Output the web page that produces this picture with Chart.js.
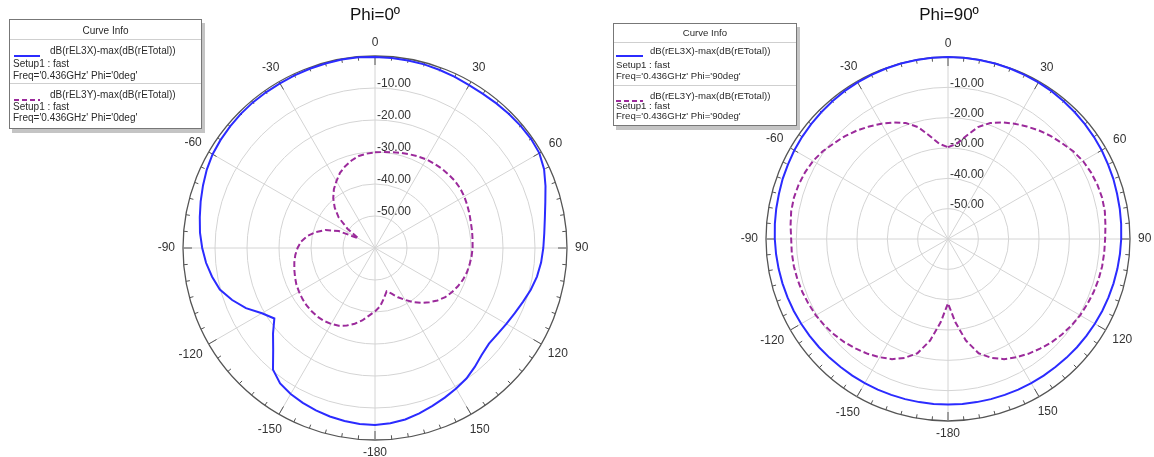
<!DOCTYPE html>
<html><head><meta charset="utf-8">
<script src="https://cdn.jsdelivr.net/npm/chart.js@4.4.1/dist/chart.umd.min.js"></script>
<style>
html,body{margin:0;padding:0;background:#fff;width:1154px;height:457px;overflow:hidden;position:relative;font-family:"Liberation Sans",Arial,sans-serif;}
canvas{position:absolute;top:0}
#c1{left:0}#c2{left:577px}
.title{position:absolute;top:5px;font-size:17px;color:#111;transform:translateX(-50%);white-space:nowrap;line-height:20px}
.box{position:absolute;background:#fff;border:1px solid #777;box-shadow:3px 4px 0 #c4c4c4;}
.t{position:absolute;white-space:nowrap;color:#2a2a2a;line-height:12px;}
.sep{position:absolute;left:0;right:0;height:0;border-top:1px solid #cfcfcf;}
.smp{position:absolute;}
</style></head>
<body>
<canvas id="c1" width="620" height="457" style="width:620px;height:457px"></canvas>
<canvas id="c2" width="577" height="457" style="width:577px;height:457px"></canvas>
<div class="title" style="left:375px">Phi=0º</div>
<div class="title" style="left:949px">Phi=90º</div>
<div id="legends"></div>
<script>
// ---- data ----
const angles = [0,5,10,15,20,25,30,35,40,45,50,55,60,65,70,75,80,85,90,95,100,105,110,115,
  120,125,130,135,140,145,150,155,160,165,170,175,180,185,190,195,200,205,210,215,220,225,230,235,
  240,245,250,255,260,265,270,275,280,285,290,295,300,305,310,315,320,325,330,335,340,345,350,355];
const angleTickLabels = ['0','30','60','90','120','150','-180','-150','-120','-90','-60','-30'];
const dbTickValues = [-10,-20,-30,-40,-50];
const dbTickLabels = ['-10.00','-20.00','-30.00','-40.00','-50.00'];
const seriesNames = ['dB(rEL3X)-max(dB(rETotal))','dB(rEL3Y)-max(dB(rETotal))'];
const setupText = 'Setup1 : fast';
const freqTexts = ["Freq='0.436GHz' Phi='0deg'", "Freq='0.436GHz' Phi='90deg'"];
const plotTitles = ['Phi=0º','Phi=90º'];

// Phi = 0 deg
const phi0_X = [-0.3,-0.4,-0.5,-0.6,-0.8,-1.0,-1.2,-1.2,-1.0,-0.8,-0.6,-0.5,-0.7,-1.7,-3.3,-4.9,-6.1,-6.9,
  -7.4,-7.9,-8.6,-9.6,-10.8,-11.8,-12.6,-13.2,-13.5,-12.8,-11.5,-10.2,-9.3,-8.4,-7.5,-6.5,-5.6,-5.0,
  -4.7,-4.8,-5.1,-5.5,-6.0,-6.6,-7.3,-8.3,-10.4,-15.0,-18.4,-21.6,-19.2,-15.5,-12.5,-9.8,-8.3,-7.0,
  -6.0,-5.1,-4.4,-3.6,-2.8,-2.0,-1.4,-1.1,-0.9,-0.7,-0.6,-0.6,-0.6,-0.5,-0.4,-0.3,-0.2,-0.2];
const phi0_Y = [-30.1,-29.9,-29.6,-29.2,-28.8,-28.4,-28.0,-27.8,-27.6,-27.5,-27.4,-27.5,-27.8,-28.2,-28.6,-29.0,-29.2,-29.4,
  -29.5,-29.7,-30.0,-30.3,-30.8,-31.5,-32.3,-33.2,-34.5,-36.0,-37.6,-39.4,-41.3,-43.0,-44.8,-46.0,-44.0,-41.7,
  -40.2,-38.8,-37.0,-35.5,-34.2,-33.2,-32.6,-32.2,-32.0,-32.0,-32.1,-32.3,-32.6,-32.9,-33.4,-33.9,-34.4,-35.0,
  -35.8,-36.8,-38.5,-40.8,-43.5,-47.5,-54.0,-49.5,-45.2,-42.2,-39.7,-37.6,-35.9,-34.1,-32.8,-31.7,-30.8,-30.4];
// Phi = 90 deg
const phi90_X = [0,0,-0.05,-0.1,-0.2,-0.3,-0.4,-0.5,-0.7,-0.9,-1.1,-1.3,-1.5,-1.8,-2.0,-2.3,-2.5,-2.7,
  -2.9,-3.1,-3.3,-3.5,-3.7,-3.9,-4.1,-4.3,-4.5,-4.7,-4.9,-5.0,-5.1,-5.2,-5.3,-5.35,-5.4,-5.4,
  -5.4,-5.4,-5.4,-5.35,-5.3,-5.2,-5.1,-5.0,-4.9,-4.7,-4.5,-4.3,-4.1,-3.9,-3.7,-3.5,-3.3,-3.1,
  -2.9,-2.7,-2.5,-2.3,-2.0,-1.8,-1.5,-1.3,-1.1,-0.9,-0.7,-0.5,-0.4,-0.3,-0.2,-0.1,-0.05,0];
const phi90_Y = [-29.7,-28.6,-25.5,-21.8,-19.3,-17.6,-16.1,-14.7,-13.3,-12.0,-10.9,-9.6,-8.6,-8.0,-7.6,-7.4,-7.5,-7.9,
  -8.2,-8.3,-8.4,-8.6,-8.9,-9.3,-9.7,-10.3,-11.0,-11.8,-12.8,-13.8,-15.0,-16.3,-18.3,-21.0,-26.0,-32.5,
  -38.8,-32.5,-26.0,-21.0,-18.3,-16.3,-15.0,-13.8,-12.8,-11.8,-11.0,-10.3,-9.7,-9.3,-8.9,-8.6,-8.4,-8.3,
  -8.3,-7.9,-7.5,-7.4,-7.6,-8.0,-8.6,-9.6,-10.9,-12.0,-13.3,-14.7,-16.1,-17.6,-19.3,-21.8,-25.5,-28.6];

const blueColor = '#2b2bff';
const purpleColor = '#9b2a9b';

// ---- decoration plugin: outer tick ring, angle labels, dB labels ----
const polarDecor = {
  id: 'polarDecor',
  beforeDatasetsDraw(chart) {
    const s = chart.scales.r, ctx = chart.ctx;
    const R = s.getDistanceFromCenterForValue(s.max);
    ctx.save();
    ctx.strokeStyle = '#555'; ctx.lineWidth = 1;
    const n = chart.data.labels.length;
    for (let i = 0; i < n; i++) {
      const len = i % 6 === 0 ? 9 : 4;
      const p1 = s.getPointPosition(i, R), p2 = s.getPointPosition(i, R - len);
      ctx.beginPath(); ctx.moveTo(p1.x, p1.y); ctx.lineTo(p2.x, p2.y); ctx.stroke();
    }
    ctx.fillStyle = '#333';
    ctx.font = '12px "Liberation Sans", Arial, sans-serif';
    ctx.textBaseline = 'middle';
    ctx.textAlign = 'left';
    dbTickValues.forEach((v, k) => {
      const d = s.getDistanceFromCenterForValue(v);
      ctx.fillText(dbTickLabels[k], s.xCenter + 2, s.yCenter - d - 4);
    });
    ctx.textAlign = 'center';
    const step = n / angleTickLabels.length;
    angleTickLabels.forEach((txt, k) => {
      const idx = k * step;
      const ang = s.getIndexAngle(idx);
      const w = ctx.measureText(txt).width, h = 10;
      const half = Math.abs(Math.sin(ang)) * w / 2 + Math.abs(Math.cos(ang)) * h / 2;
      const p = s.getPointPosition(idx, R + 8 + half);
      ctx.fillText(txt, p.x, p.y);
    });
    ctx.restore();
  }
};

function makeChart(id, xData, yData, pad) {
  return new Chart(document.getElementById(id), {
    type: 'radar',
    data: {
      labels: angles,
      datasets: [
        {label: seriesNames[0], data: xData, borderColor: blueColor, borderWidth: 2, fill: false, pointRadius: 0, pointHoverRadius: 0},
        {label: seriesNames[1], data: yData, borderColor: purpleColor, borderWidth: 2, borderDash: [6, 3], fill: false, pointRadius: 0, pointHoverRadius: 0}
      ]
    },
    options: {
      responsive: false, animation: false, devicePixelRatio: 1,
      layout: {padding: pad},
      events: [],
      plugins: {legend: {display: false}, tooltip: {enabled: false}, title: {display: false}},
      elements: {line: {tension: 0}},
      scales: {
        r: {
          min: -60, max: 0,
          ticks: {display: false, stepSize: 10},
          pointLabels: {display: false},
          grid: {
            circular: true,
            color: c => (c.tick && c.tick.value === 0) ? '#555' : '#d4d4d4',
            lineWidth: c => (c.tick && c.tick.value === 0) ? 1.3 : 1
          },
          angleLines: {color: '#d4d4d4', lineWidth: c => (c.index % 6 === 0) ? 1 : 0}
        }
      }
    },
    plugins: [polarDecor]
  });
}

makeChart('c1', phi0_X, phi0_Y, {left: 183, top: 56, right: 53, bottom: 17});
makeChart('c2', phi90_X, phi90_Y, {left: 189, top: 57, right: 24, bottom: 36});

// ---- HTML legends (Curve Info) ----
function legend(cfg, k) {
  const box = document.createElement('div');
  box.className = 'box';
  Object.assign(box.style, {left: cfg.left + 'px', top: cfg.top + 'px', width: cfg.w + 'px', height: cfg.h + 'px', fontSize: cfg.fs + 'px'});
  const add = (txt, x, y, center) => {
    const d = document.createElement('div'); d.className = 't'; d.textContent = txt;
    d.style.top = (y - 6) + 'px';
    if (center) { d.style.left = '0'; d.style.right = '0'; d.style.textAlign = 'center'; }
    else d.style.left = x + 'px';
    box.appendChild(d);
  };
  const sep = y => { const d = document.createElement('div'); d.className = 'sep'; d.style.top = y + 'px'; box.appendChild(d); };
  const sample = (y, color, dash) => {
    const d = document.createElement('div'); d.className = 'smp';
    d.style.left = cfg.sx + 'px'; d.style.top = (y - 2) + 'px';
    d.innerHTML = '<svg width="' + cfg.sw + '" height="4"><line x1="0" y1="2" x2="' + cfg.sw + '" y2="2" stroke="' + color +
      '" stroke-width="2"' + (dash ? ' stroke-dasharray="5,3"' : '') + '/></svg>';
    box.appendChild(d);
  };
  add('Curve Info', 0, cfg.hy, true);
  sep(cfg.s1);
  sample(cfg.r[0], blueColor, false);
  add(seriesNames[0], cfg.tx, cfg.r[0]);
  add(setupText, cfg.lx, cfg.r[1]);
  add(freqTexts[k], cfg.lx, cfg.r[2]);
  sep(cfg.s2);
  sample(cfg.r[3], purpleColor, true);
  add(seriesNames[1], cfg.tx, cfg.r[3]);
  add(setupText, cfg.lx, cfg.r[4]);
  add(freqTexts[k], cfg.lx, cfg.r[5]);
  document.getElementById('legends').appendChild(box);
}
legend({left: 9, top: 19, w: 191, h: 108, fs: 10, hy: 11, s1: 19, s2: 63, r: [31, 44, 56, 75, 87, 98], sx: 4, sw: 26, tx: 40, lx: 3}, 0);
legend({left: 613, top: 23, w: 182, h: 101, fs: 9.6, hy: 9, s1: 18, s2: 61, r: [27, 41, 52, 72, 82, 92], sx: 2, sw: 27, tx: 36, lx: 2}, 1);
</script>
</body></html>
